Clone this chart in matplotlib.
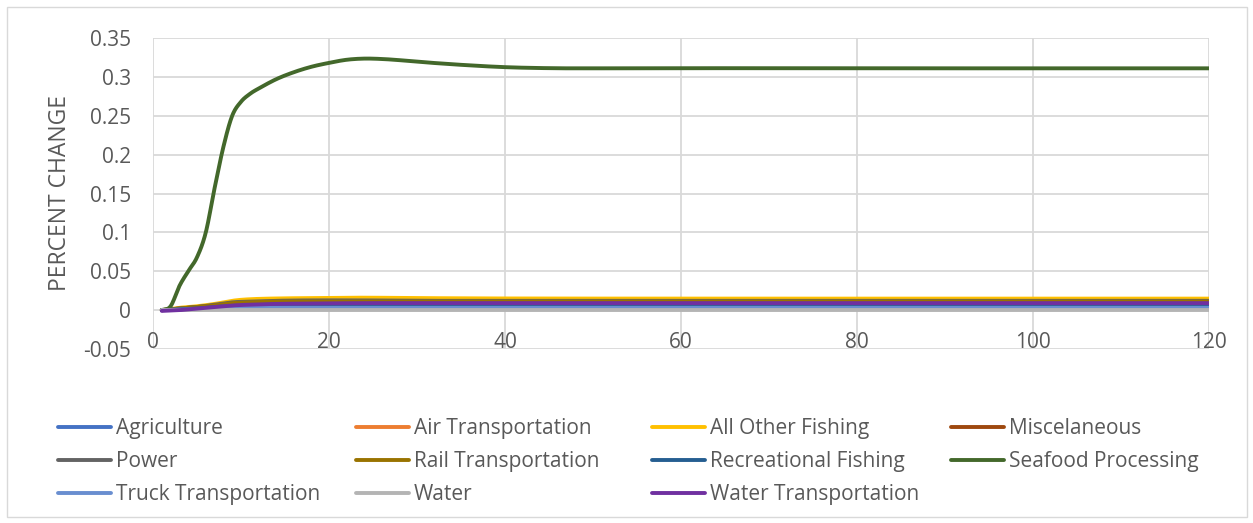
import numpy as np
import matplotlib
matplotlib.use("Agg")
import matplotlib.pyplot as plt
from matplotlib.lines import Line2D
from matplotlib.patches import Rectangle
from matplotlib.transforms import blended_transform_factory

plt.rcParams['font.family'] = ['Open Sans', 'DejaVu Sans']

# ---- data -------------------------------------------------------------
series_names = [
    "Agriculture", "Air Transportation", "All Other Fishing", "Miscelaneous",
    "Power", "Rail Transportation", "Recreational Fishing", "Seafood Processing",
    "Truck Transportation", "Water", "Water Transportation",
]
series_colors = [
    "#4472C4", "#ED7D31", "#FFC000", "#9E480E",
    "#636363", "#997300", "#255E91", "#43682B",
    "#698ED0", "#B4B4B4", "#7030A0",
]

months_seafood = [1, 2, 3, 4, 5, 6, 7, 8, 9, 10, 11, 12, 14, 16, 18, 20, 22, 24,
                  26, 28, 30, 35, 40, 45, 50, 60, 80, 100, 120]
seafood = [0.0, 0.005, 0.031, 0.050, 0.068, 0.100, 0.157, 0.210, 0.250, 0.268,
           0.278, 0.285, 0.297, 0.306, 0.313, 0.318, 0.322, 0.3235, 0.323, 0.3215,
           0.3195, 0.3155, 0.3125, 0.3112, 0.311, 0.3112, 0.311, 0.311, 0.311]

months_small = [1, 3, 5, 7, 9, 11, 14, 18, 24, 30, 40, 60, 80, 100, 120]
agriculture = [0.0, 0.001, 0.002, 0.003, 0.004, 0.0045, 0.005, 0.005, 0.005, 0.005, 0.005, 0.005, 0.005, 0.005, 0.005]
air_transport = [0.0, 0.001, 0.002, 0.004, 0.005, 0.0055, 0.006, 0.006, 0.006, 0.006, 0.006, 0.006, 0.006, 0.006, 0.006]
all_other_fishing = [0.0, 0.003, 0.005, 0.008, 0.012, 0.014, 0.015, 0.0155, 0.016, 0.0155, 0.015, 0.0148, 0.0148, 0.0148, 0.0148]
miscelaneous = [0.0, 0.002, 0.004, 0.006, 0.008, 0.009, 0.0098, 0.010, 0.010, 0.010, 0.010, 0.010, 0.010, 0.010, 0.010]
power = [0.0, 0.002, 0.004, 0.007, 0.010, 0.011, 0.012, 0.0125, 0.0125, 0.012, 0.012, 0.012, 0.012, 0.012, 0.012]
rail_transport = [0.0, 0.002, 0.004, 0.006, 0.009, 0.010, 0.011, 0.011, 0.011, 0.011, 0.011, 0.011, 0.011, 0.011, 0.011]
recreational = [0.0, 0.001, 0.002, 0.004, 0.005, 0.0055, 0.006, 0.006, 0.006, 0.006, 0.006, 0.006, 0.006, 0.006, 0.006]
truck_transport = [0.0, 0.0005, 0.001, 0.002, 0.0025, 0.003, 0.003, 0.003, 0.003, 0.003, 0.003, 0.003, 0.003, 0.003, 0.003]
water = [0.0, 0.0, 0.0, 0.0, 0.0, 0.0, 0.0, 0.0, 0.0, 0.0, 0.0, 0.0, 0.0, 0.0, 0.0]
water_transport = [-0.001, 0.0, 0.002, 0.004, 0.006, 0.007, 0.008, 0.0085, 0.009, 0.009, 0.009, 0.009, 0.009, 0.009, 0.009]

series_values = [agriculture, air_transport, all_other_fishing, miscelaneous,
                 power, rail_transport, recreational, seafood,
                 truck_transport, water, water_transport]

y_ticks = [-0.05, 0, 0.05, 0.1, 0.15, 0.2, 0.25, 0.3, 0.35]
y_labels = ["-0.05", "0", "0.05", "0.1", "0.15", "0.2", "0.25", "0.3", "0.35"]
x_ticks = [0, 20, 40, 60, 80, 100, 120]
x_labels = ["0", "20", "40", "60", "80", "100", "120"]


def smooth(x, y, n=16):
    """Bezier smoothing through the given points (Catmull-Rom tangents)."""
    x = np.asarray(x, float)
    y = np.asarray(y, float)
    px = np.concatenate([[2 * x[0] - x[1]], x, [2 * x[-1] - x[-2]]])
    py = np.concatenate([[2 * y[0] - y[1]], y, [2 * y[-1] - y[-2]]])
    xs, ys = [], []
    t = np.linspace(0, 1, n, endpoint=False)
    for i in range(1, len(px) - 2):
        p0x, p1x, p2x, p3x = px[i - 1:i + 3]
        p0y, p1y, p2y, p3y = py[i - 1:i + 3]
        c1x = p1x + (p2x - p0x) / 6
        c1y = p1y + (p2y - p0y) / 6
        c2x = p2x - (p3x - p1x) / 6
        c2y = p2y - (p3y - p1y) / 6
        b0 = (1 - t) ** 3
        b1 = 3 * (1 - t) ** 2 * t
        b2 = 3 * (1 - t) * t ** 2
        b3 = t ** 3
        xs.append(b0 * p1x + b1 * c1x + b2 * c2x + b3 * p2x)
        ys.append(b0 * p1y + b1 * c1y + b2 * c2y + b3 * p2y)
    xs.append([x[-1]])
    ys.append([y[-1]])
    return np.concatenate(xs), np.concatenate(ys)


# ---- figure -----------------------------------------------------------
W, H = 1253, 523
FS = 15
TXT = "#595959"
fig = plt.figure(figsize=(W / 100, H / 100), dpi=100)
ax = fig.add_axes([153 / W, 1 - 349 / H, (1209 - 153) / W, (349 - 38) / H])

for name, color, vals in zip(series_names, series_colors, series_values):
    xs_src = months_seafood if name == "Seafood Processing" else months_small
    sx, sy = smooth(xs_src, vals)
    ax.plot(sx, sy, color=color, lw=2.8, solid_capstyle="round", zorder=3)

ax.set_xlim(0, 120)
ax.set_ylim(-0.05, 0.35)
ax.set_yticks(y_ticks)
ax.set_yticklabels(y_labels)
ax.set_xticks(x_ticks)
ax.set_xticklabels([])
ax.grid(True, color="#D9D9D9", lw=1.3, zorder=0)
for s in ax.spines.values():
    s.set_visible(False)
ax.tick_params(length=0, labelsize=FS, colors=TXT)
ax.tick_params(axis="y", pad=16)

# month labels sit just above the bottom gridline
trans = blended_transform_factory(ax.transData, ax.transData)
for xv, lbl in zip(x_ticks, x_labels):
    ax.text(xv, -0.0488, lbl, fontsize=FS, color=TXT, ha="center",
            va="baseline", transform=trans, zorder=4)

fig.text(60 / W, 1 - 193 / H, "PERCENT CHANGE", fontsize=16.5, color=TXT,
         rotation=90, ha="center", va="center")

# legend laid out in four columns under the plot
col_x = [58, 356, 652, 951]
row_y = [427, 460, 493]
for i, (name, color) in enumerate(zip(series_names, series_colors)):
    r, c = divmod(i, 4)
    x0 = col_x[c]
    y0 = row_y[r]
    fig.add_artist(Line2D([x0 / W, (x0 + 53) / W], [1 - y0 / H, 1 - y0 / H],
                          color=color, lw=2.8, solid_capstyle="round",
                          transform=fig.transFigure))
    fig.text((x0 + 58) / W, 1 - (y0 + 1.5) / H, name, fontsize=FS, color=TXT,
             va="center", ha="left")

fig.add_artist(Rectangle((7 / W, 6 / H), 1 - 13 / W, 1 - 13 / H,
                         transform=fig.transFigure, fill=False,
                         edgecolor="#D9D9D9", lw=1))

fig.savefig("out.png", dpi=100, facecolor="white")
